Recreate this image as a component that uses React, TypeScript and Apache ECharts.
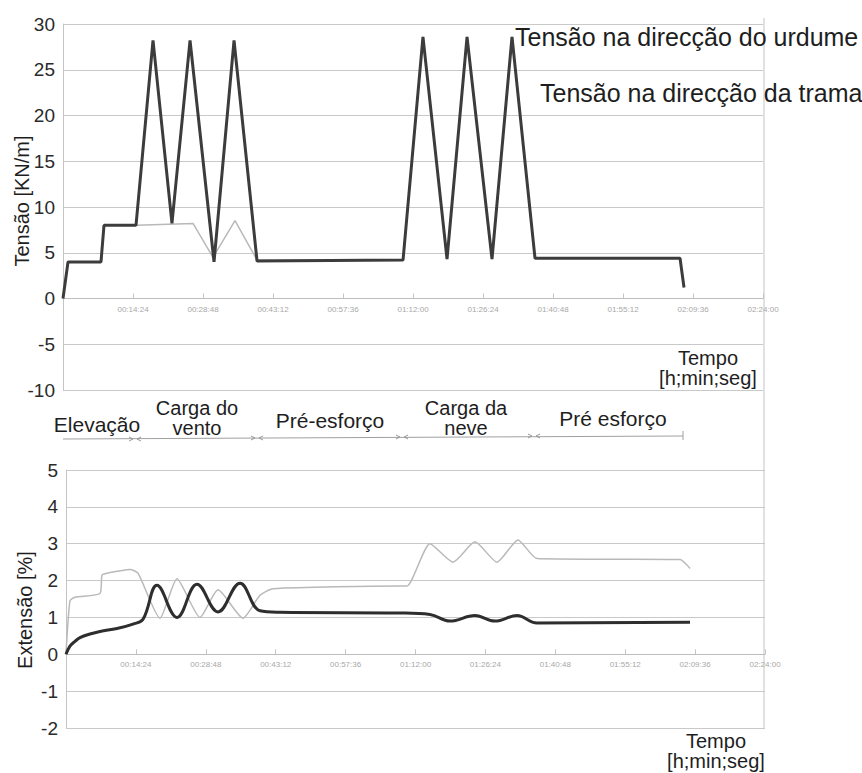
import React, { useEffect, useRef } from 'react';
import * as echarts from 'echarts';

// Top chart: tension [KN/m] vs time [s]
const tensionWarpTimes = [0, 62, 469, 506, 901, 1111, 1345, 1568, 1864, 2111, 2395, 4197, 4443, 4740, 4987, 5295, 5542, 5826, 7616, 7665];
const tensionWarp = [0, 4, 4, 8, 8, 28.2, 8.2, 28.2, 4, 28.2, 4.1, 4.2, 28.6, 4.3, 28.6, 4.3, 28.6, 4.4, 4.4, 1.2];
const tensionWeftTimes = [0, 62, 469, 506, 901, 1605, 1851, 2123, 2395, 4197, 4443, 4740, 4987, 5295, 5542, 5826, 7616, 7665];
const tensionWeft = [0, 4, 4, 8, 8, 8.2, 4.5, 8.5, 4.2, 4.2, 28.6, 4.3, 28.6, 4.3, 28.6, 4.4, 4.4, 1.2];

// Bottom chart: extension [%] vs time [s]
const extWarpTimes = [0, 49, 111, 173, 297, 420, 630, 828, 952, 1125, 1372, 1619, 1879, 2151, 2398, 2645, 4128, 4499, 4746, 5055, 5302, 5574, 5822, 7713];
const extWarp = [0, 0.22, 0.35, 0.45, 0.55, 0.62, 0.7, 0.82, 0.95, 1.87, 1.0, 1.9, 1.15, 1.93, 1.18, 1.14, 1.12, 1.08, 0.9, 1.05, 0.9, 1.05, 0.85, 0.87];
const extWeftTimes = [0, 49, 111, 420, 445, 507, 791, 890, 1162, 1372, 1656, 1879, 2188, 2398, 2559, 4128, 4215, 4499, 4783, 5055, 5327, 5587, 5822, 6761, 7589, 7713];
const extWeft = [0, 1.45, 1.55, 1.65, 2.15, 2.2, 2.3, 2.2, 0.98, 2.05, 1.0, 1.75, 0.98, 1.6, 1.78, 1.85, 1.85, 3.0, 2.5, 3.05, 2.5, 3.1, 2.6, 2.58, 2.57, 2.33];

const seriesNames = ['Tensão na direcção do urdume', 'Tensão na direcção da trama'];
const phaseLabels = ['Elevação', 'Carga do\nvento', 'Pré-esforço', 'Carga da\nneve', 'Pré esforço'];
const timeAxisTitle = 'Tempo\n[h;min;seg]';

const FONT = '"Liberation Sans", Arial, sans-serif';

const pairs = (t: number[], v: number[]) => t.map((x, i) => [x, v[i]]);
const fmtTime = (s: number) => {
  if (s === 0) return '';
  const h = Math.floor(s / 3600);
  const m = Math.floor((s % 3600) / 60);
  const sec = Math.round(s % 60);
  const p = (n: number) => String(n).padStart(2, '0');
  return `${p(h)}:${p(m)}:${p(sec)}`;
};

// grid geometry
const G1 = { left: 63, top: 24, width: 700, height: 366 };
const G2 = { left: 66, top: 470, width: 699, height: 258 };
const Y1 = { min: -10, max: 30, interval: 5 };
const Y2 = { min: -2, max: 5, interval: 1 };
// offset that lifts the time axis from the grid bottom to the zero line
const zeroOffset = (g: { height: number }, y: { min: number; max: number }) => -(g.height * (0 - y.min)) / (y.max - y.min);

const xAxisBase = (gridIndex: number, margin: number, offset: number) => ({
  type: 'value',
  gridIndex,
  min: 0,
  max: 8640,
  interval: 864,
  offset,
  splitLine: { show: false },
  axisLine: { onZero: false, lineStyle: { color: '#bdbdbd', width: 1 } },
  axisTick: { show: true, inside: true, length: 5, lineStyle: { color: '#c4c4c4' } },
  axisLabel: { formatter: fmtTime, fontSize: 8, color: '#a8a8a8', margin, fontFamily: FONT },
});

const yAxisBase = (gridIndex: number, y: { min: number; max: number; interval: number }) => ({
  type: 'value',
  gridIndex,
  min: y.min,
  max: y.max,
  interval: y.interval,
  axisLine: { show: true, lineStyle: { color: '#c4c4c4' } },
  axisTick: { show: false },
  splitLine: { show: true, lineStyle: { color: '#c9c9c9', width: 1 } },
  axisLabel: { fontSize: 19, color: '#2a2a2a', margin: 8, fontFamily: FONT },
});

const arrowPair = (x: number, y: number) => [
  { type: 'polyline', shape: { points: [[x - 6, y - 2], [x - 2, y], [x - 6, y + 2]] }, style: { stroke: '#999', lineWidth: 1, fill: null } },
  { type: 'polyline', shape: { points: [[x + 6, y - 2], [x + 2, y], [x + 6, y + 2]] }, style: { stroke: '#999', lineWidth: 1, fill: null } },
];

export default function App() {
  const ref = useRef<HTMLDivElement>(null);
  useEffect(() => {
    if (!ref.current) return;
    const chart = echarts.init(ref.current, null, { renderer: 'svg' });
    const textStyle = (text: string, size: number, align = 'center') => ({
      text,
      fontSize: size,
      fontFamily: FONT,
      fill: '#1e1e1e',
      align,
      verticalAlign: 'middle',
    });
    chart.setOption({
      animation: false,
      backgroundColor: '#ffffff',
      grid: [G1, G2],
      xAxis: [xAxisBase(0, 7, zeroOffset(G1, Y1)), xAxisBase(1, 6, zeroOffset(G2, Y2))],
      yAxis: [yAxisBase(0, Y1), yAxisBase(1, Y2)],
      series: [
        {
          name: seriesNames[1], type: 'line', xAxisIndex: 0, yAxisIndex: 0, showSymbol: false,
          data: pairs(tensionWeftTimes, tensionWeft), lineStyle: { color: '#b9b9b9', width: 1.5 }, itemStyle: { color: '#b9b9b9' }, z: 2,
        },
        {
          name: seriesNames[0], type: 'line', xAxisIndex: 0, yAxisIndex: 0, showSymbol: false,
          data: pairs(tensionWarpTimes, tensionWarp), lineStyle: { color: '#3c3c3c', width: 3 }, itemStyle: { color: '#3c3c3c' }, z: 3,
        },
        {
          name: seriesNames[1], type: 'line', xAxisIndex: 1, yAxisIndex: 1, showSymbol: false, smooth: 0.2,
          data: pairs(extWeftTimes, extWeft), lineStyle: { color: '#b9b9b9', width: 1.5 }, itemStyle: { color: '#b9b9b9' }, z: 2,
        },
        {
          name: seriesNames[0], type: 'line', xAxisIndex: 1, yAxisIndex: 1, showSymbol: false, smooth: 0.4,
          data: pairs(extWarpTimes, extWarp), lineStyle: { color: '#2e2e2e', width: 3 }, itemStyle: { color: '#2e2e2e' }, z: 3,
        },
      ],
      graphic: [
        { type: 'line', shape: { x1: 764, y1: 18, x2: 764, y2: 729 }, style: { stroke: '#c4c4c4', lineWidth: 1 } },
        { type: 'text', x: 515, y: 37, style: textStyle(seriesNames[0], 25, 'left'), z: 10 },
        { type: 'text', x: 540, y: 93, style: textStyle(seriesNames[1], 25, 'left'), z: 10 },
        { type: 'text', x: 22, y: 201, rotation: Math.PI / 2, style: textStyle('Tensão [KN/m]', 20) },
        { type: 'text', x: 25, y: 610, rotation: Math.PI / 2, style: textStyle('Extensão [%]', 20) },
        { type: 'text', x: 708, y: 368, style: { ...textStyle(timeAxisTitle, 20), lineHeight: 20 } },
        { type: 'text', x: 716, y: 751, style: { ...textStyle(timeAxisTitle, 20), lineHeight: 20 } },
        { type: 'text', x: 97, y: 424, style: textStyle(phaseLabels[0], 21) },
        { type: 'text', x: 197, y: 418, style: { ...textStyle(phaseLabels[1], 20), lineHeight: 20 } },
        { type: 'text', x: 330, y: 420, style: textStyle(phaseLabels[2], 21) },
        { type: 'text', x: 466, y: 418, style: { ...textStyle(phaseLabels[3], 20), lineHeight: 20 } },
        { type: 'text', x: 613, y: 418, style: textStyle(phaseLabels[4], 21) },
        { type: 'line', shape: { x1: 63, y1: 439, x2: 683, y2: 436 }, style: { stroke: '#a0a0a0', lineWidth: 1 } },
        { type: 'line', shape: { x1: 683, y1: 431, x2: 683, y2: 440 }, style: { stroke: '#a0a0a0', lineWidth: 1 } },
        ...arrowPair(135, 439),
        ...arrowPair(257, 438),
        ...arrowPair(402, 437),
        ...arrowPair(534, 436),
      ],
    });
    return () => chart.dispose();
  }, []);
  return <div ref={ref} style={{ position: 'absolute', left: 0, top: 0, width: 862, height: 773 }} />;
}
